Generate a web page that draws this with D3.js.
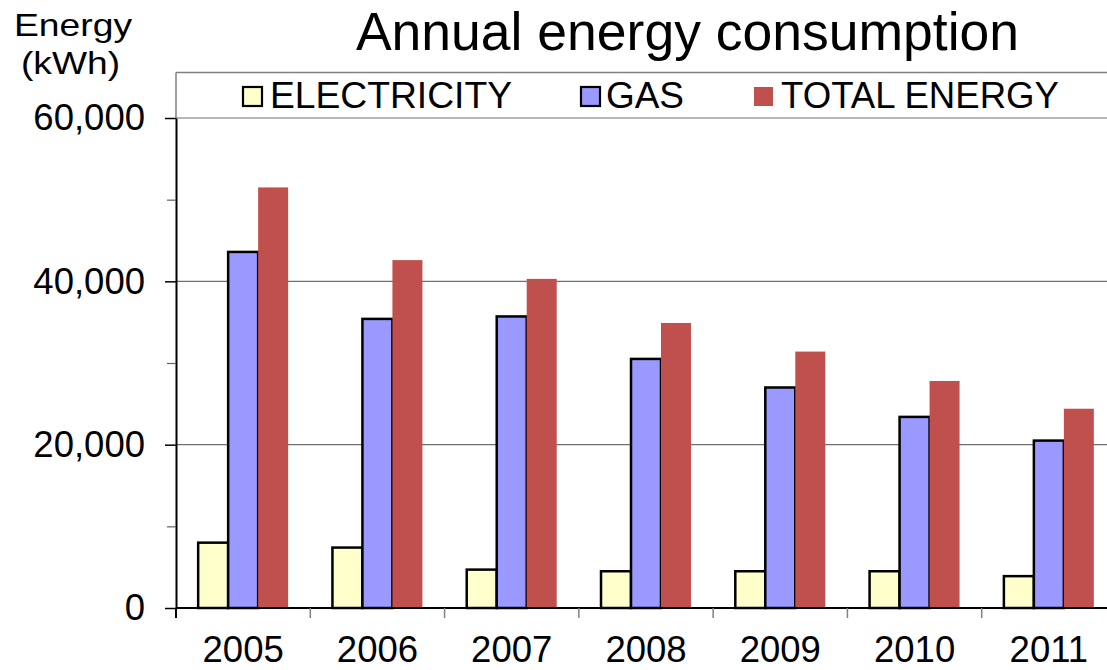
<!DOCTYPE html>
<html>
<head>
<meta charset="utf-8">
<script src="https://cdn.jsdelivr.net/npm/d3@7/dist/d3.min.js"></script>
<style>
  html, body { margin: 0; padding: 0; background: #ffffff; }
  svg { display: block; font-family: "Liberation Sans", Arial, sans-serif; }
</style>
</head>
<body>
<svg id="chart" width="1107" height="670"></svg>
<script>
// ---- data ----
const years = ["2005", "2006", "2007", "2008", "2009", "2010", "2011"];
const seriesNames = ["ELECTRICITY", "GAS", "TOTAL ENERGY"];
const electricity = [8000, 7400, 4700, 4500, 4500, 4500, 3900];
const gas = [43600, 35400, 35700, 30500, 27000, 23400, 20500];
const totalEnergy = [51500, 42600, 40300, 34900, 31400, 27800, 24400];
const yTickValues = [0, 20000, 40000, 60000];
const yMinorTickValues = [10000, 30000, 50000];
const titleText = "Annual energy consumption";
const yTitleLines = ["Energy", "(kWh)"];

// ---- layout ----
const svg = d3.select("#chart");
const plotLeft = 176, plotRight = 1116, plotTop = 72.5, baseY = 608, topGridY = 118;
const colors = { "ELECTRICITY": "#FFFFCC", "GAS": "#9999FF", "TOTAL ENERGY": "#C0504D" };
const outlined = { "ELECTRICITY": true, "GAS": true, "TOTAL ENERGY": false };

const y = d3.scaleLinear().domain([0, 60000]).range([baseY, topGridY]);
const x0 = d3.scaleBand().domain(years).range([plotLeft, plotRight])
  .paddingInner(0.33).paddingOuter(0.165);
const x1 = d3.scaleBand().domain(seriesNames).range([0, x0.bandwidth()]);

const seriesValues = { "ELECTRICITY": electricity, "GAS": gas, "TOTAL ENERGY": totalEnergy };

// plot frame (top and upper left, gray)
svg.append("line").attr("x1", plotLeft).attr("x2", 1107).attr("y1", plotTop).attr("y2", plotTop)
  .attr("stroke", "#808080").attr("stroke-width", 1.5);
svg.append("line").attr("x1", plotLeft).attr("x2", plotLeft).attr("y1", plotTop).attr("y2", topGridY)
  .attr("stroke", "#808080").attr("stroke-width", 1.5);

// gridlines
svg.append("g").selectAll("line").data(yTickValues.filter(v => v > 0)).join("line")
  .attr("x1", plotLeft).attr("x2", 1107)
  .attr("y1", d => y(d)).attr("y2", d => y(d))
  .attr("stroke", "#707070").attr("stroke-width", 1.2);

// bars
const groups = svg.append("g").selectAll("g").data(years).join("g")
  .attr("transform", d => `translate(${x0(d)},0)`);
groups.selectAll("rect")
  .data((yr, i) => seriesNames.map(s => ({ s, v: seriesValues[s][i] })))
  .join("rect")
  .attr("x", d => x1(d.s))
  .attr("width", x1.bandwidth())
  .attr("y", d => y(d.v))
  .attr("height", d => y(0) - y(d.v))
  .attr("fill", d => colors[d.s])
  .attr("stroke", d => outlined[d.s] ? "#000" : "none")
  .attr("stroke-width", 2.5);

// y axis major
const yAxis = svg.append("g").attr("transform", `translate(${plotLeft},0)`)
  .call(d3.axisLeft(y).tickValues(yTickValues).tickFormat(d3.format(","))
    .tickSize(11).tickSizeOuter(0).tickPadding(20));
yAxis.select(".domain").attr("stroke", "#000").attr("stroke-width", 2);
yAxis.selectAll(".tick line").attr("stroke", "#000").attr("stroke-width", 1.5);
yAxis.selectAll(".tick text").attr("font-size", 36.5).attr("fill", "#000")
  .attr("font-family", "'Liberation Sans', Arial, sans-serif");

// y axis minor ticks
const yMinor = svg.append("g").attr("transform", `translate(${plotLeft},0)`)
  .call(d3.axisLeft(y).tickValues(yMinorTickValues).tickFormat("").tickSize(9).tickSizeOuter(0));
yMinor.select(".domain").remove();
yMinor.selectAll(".tick line").attr("stroke", "#606060").attr("stroke-width", 1.2);

// x axis
const xAxis = svg.append("g").attr("transform", `translate(0,${baseY})`)
  .call(d3.axisBottom(x0).tickSize(0).tickPadding(28.5));
xAxis.select(".domain").attr("d", `M${plotLeft},0H1107`).attr("stroke", "#000").attr("stroke-width", 2);
xAxis.selectAll(".tick text").attr("font-size", 36.5).attr("fill", "#000")
  .attr("font-family", "'Liberation Sans', Arial, sans-serif");

// x axis boundary ticks
const boundaries = d3.range(years.length + 1).map(i => x0.range()[0] + i * x0.step());
svg.append("g").selectAll("line").data(boundaries).join("line")
  .attr("x1", d => d).attr("x2", d => d)
  .attr("y1", baseY).attr("y2", baseY + 10)
  .attr("stroke", (d, i) => i === 0 ? "#000" : "#808080").attr("stroke-width", (d, i) => i === 0 ? 2 : 1.5);

// title
svg.append("text").attr("x", 687.5).attr("y", 49.5).attr("text-anchor", "middle")
  .attr("font-size", 53.5).attr("fill", "#000").text(titleText);

// y title (slightly stretched horizontally as in the reference)
svg.append("text").attr("x", 14).attr("y", 36).attr("font-size", 32)
  .attr("textLength", 118).attr("lengthAdjust", "spacingAndGlyphs").text(yTitleLines[0]);
svg.append("text").attr("x", 21).attr("y", 74).attr("font-size", 32)
  .attr("textLength", 99).attr("lengthAdjust", "spacingAndGlyphs").text(yTitleLines[1]);

// legend
const legendItems = [
  { s: "ELECTRICITY", box: 243, tx: 270, w: 242 },
  { s: "GAS", box: 581, tx: 606, w: 78 },
  { s: "TOTAL ENERGY", box: 754, tx: 781, w: 278 }
];
const lg = svg.append("g");
lg.selectAll("rect").data(legendItems).join("rect")
  .attr("x", d => d.box).attr("y", 87).attr("width", 19).attr("height", 19)
  .attr("fill", d => colors[d.s])
  .attr("stroke", d => outlined[d.s] ? "#000" : "none").attr("stroke-width", 2.2);
lg.selectAll("text").data(legendItems).join("text")
  .attr("x", d => d.tx).attr("y", 108).attr("font-size", 36).attr("fill", "#000")
  .attr("textLength", d => d.w).attr("lengthAdjust", "spacingAndGlyphs")
  .text(d => d.s);
</script>
</body>
</html>
